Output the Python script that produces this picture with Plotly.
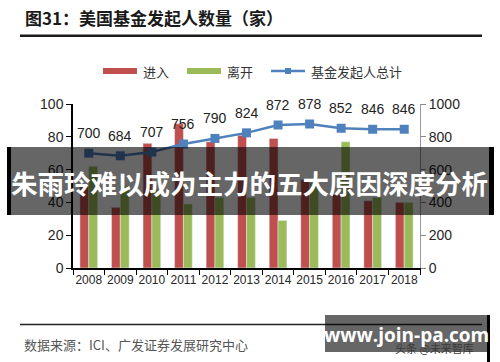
import plotly.graph_objects as go

years = ["2008", "2009", "2010", "2011", "2012", "2013", "2014", "2015", "2016", "2017", "2018"]
entries = [50, 37, 76, 88, 77, 81, 79, 54, 45, 41, 40]
exits = [62, 50, 48, 39, 43, 43, 29, 52, 77, 43, 40]
totals = [700, 684, 707, 756, 790, 824, 872, 878, 852, 846, 846]

RED = "#C0504D"
GREEN = "#9BBB59"
BLUE = "#4F81BD"
W, H = 500, 362
L, R, T, B = 73, 80, 104, 94
PW, PH = W - L - R, H - T - B


def px(x):
    return (x - L) / PW


def py(y):
    return (H - B - y) / PH


CJK = "Noto Sans CJK SC"
LAT = "Liberation Sans"

fig = go.Figure()
fig.add_trace(go.Bar(x=years, y=entries, name="进入", marker_color=RED, yaxis="y"))
fig.add_trace(go.Bar(x=years, y=exits, name="离开", marker_color=GREEN, yaxis="y"))
fig.add_trace(go.Scatter(x=years, y=totals, name="基金发起人总计", mode="lines+markers",
                         line=dict(color=BLUE, width=2.5),
                         marker=dict(symbol="square", size=9, color=BLUE), yaxis="y2"))

annotations = []
for i, v in enumerate(totals):
    annotations.append(dict(x=i, y=v, xref="x", yref="y2", text=str(v), showarrow=False,
                            yshift=20, font=dict(family=LAT, size=14, color="#222")))

shapes = []
# title and rules
annotations.append(dict(x=px(23), y=py(17), xref="paper", yref="paper", xanchor="left", yanchor="middle",
                        text="<b>图31：美国基金发起人数量（家）</b>", showarrow=False,
                        font=dict(family=CJK, size=17, color="#1a1a1a")))
shapes.append(dict(type="rect", xref="paper", yref="paper", x0=px(20), x1=px(482), y0=py(37), y1=py(34.5),
                   fillcolor="#1a1a1a", line=dict(width=0), layer="above"))
shapes.append(dict(type="line", xref="paper", yref="paper", x0=px(20), x1=px(482), y0=py(324.5), y1=py(324.5),
                   line=dict(color="#222", width=1.5), layer="above"))
annotations.append(dict(x=px(22), y=py(344), xref="paper", yref="paper", xanchor="left", yanchor="middle",
                        text="数据来源：ICI、广发证券发展研究中心", showarrow=False,
                        font=dict(family=CJK, size=13, color="#555")))

# legend (custom)
legend_items = [("进入", RED, "bar", 103), ("离开", GREEN, "bar", 187), ("基金发起人总计", BLUE, "line", 271)]
for name, col, kind, x0 in legend_items:
    if kind == "bar":
        shapes.append(dict(type="rect", xref="paper", yref="paper", x0=px(x0), x1=px(x0 + 34),
                           y0=py(68), y1=py(74), fillcolor=col, line=dict(width=0)))
    else:
        shapes.append(dict(type="line", xref="paper", yref="paper", x0=px(x0), x1=px(x0 + 34),
                           y0=py(71), y1=py(71), line=dict(color=col, width=2.5)))
        shapes.append(dict(type="rect", xref="paper", yref="paper", x0=px(x0 + 14), x1=px(x0 + 20),
                           y0=py(68), y1=py(74), fillcolor=col, line=dict(width=0)))
    annotations.append(dict(x=px(x0 + 38), y=py(71), xref="paper", yref="paper", xanchor="left",
                            yanchor="middle", text=name, showarrow=False,
                            font=dict(family=CJK, size=13, color="#333")))

# overlay banner
shapes.append(dict(type="rect", xref="paper", yref="paper", x0=px(7), x1=px(494), y0=py(215), y1=py(147),
                   fillcolor="rgba(0,0,0,0.6)", line=dict(width=0), layer="above"))
shapes.append(dict(type="rect", xref="paper", yref="paper", x0=px(7), x1=px(11), y0=py(215), y1=py(147),
                   fillcolor="#000", line=dict(width=0), layer="above"))
shapes.append(dict(type="rect", xref="paper", yref="paper", x0=px(489), x1=px(494), y0=py(215), y1=py(147),
                   fillcolor="#000", line=dict(width=0), layer="above"))
annotations.append(dict(x=px(250), y=py(182), xref="paper", yref="paper", xanchor="center", yanchor="middle",
                        text="<b>朱雨玲难以成为主力的五大原因深度分析</b>", showarrow=False,
                        font=dict(family=CJK, size=26.5, color="#fff")))

# watermark
shapes.append(dict(type="rect", xref="paper", yref="paper", x0=px(325), x1=px(487), y0=py(352), y1=py(315),
                   fillcolor="rgba(0,0,0,0.6)", line=dict(width=0), layer="above"))
shapes.append(dict(type="rect", xref="paper", yref="paper", x0=px(487), x1=px(490), y0=py(362), y1=py(315),
                   fillcolor="#000", line=dict(width=0), layer="above"))
annotations.append(dict(x=px(434), y=py(348), xref="paper", yref="paper", xanchor="center", yanchor="middle",
                        text="头条 @未来智库", showarrow=False,
                        font=dict(family=CJK, size=11, color="#3a3a3a")))
annotations.append(dict(x=px(406), y=py(335), xref="paper", yref="paper", xanchor="center", yanchor="middle",
                        text="<b>www.join-pa.com</b>", showarrow=False,
                        font=dict(family="Open Sans", size=19, color="#fff")))

fig.update_layout(
    width=W, height=H,
    margin=dict(l=L, r=R, t=T, b=B, pad=0),
    paper_bgcolor="white", plot_bgcolor="white",
    showlegend=False,
    barmode="group", bargap=0.44, bargroupgap=0,
    xaxis=dict(type="category", range=[-0.5, len(years) - 0.5], autorange=False,
               tickson="boundaries", ticks="outside", ticklen=5, tickcolor="#000", tickangle=0,
               showline=True, linecolor="#000", linewidth=1.5, showgrid=False,
               tickfont=dict(family=LAT, size=12, color="#262626")),
    yaxis=dict(range=[0, 100], dtick=20, ticks="outside", ticklen=5, tickcolor="#000",
               showline=True, linecolor="#000", linewidth=1.5, showgrid=False, zeroline=False,
               tickfont=dict(family=LAT, size=14, color="#262626")),
    yaxis2=dict(range=[0, 1000], dtick=200, overlaying="y", side="right", ticks="outside", ticklen=5,
                tickcolor="#888", showline=True, linecolor="#999", linewidth=1, showgrid=False,
                zeroline=False, tickfont=dict(family=LAT, size=14, color="#262626")),
    annotations=annotations,
    shapes=shapes,
)

fig.write_html("out.html", config={"displayModeBar": False},
               post_script="document.body.style.margin='0';document.body.style.overflow='hidden';")
